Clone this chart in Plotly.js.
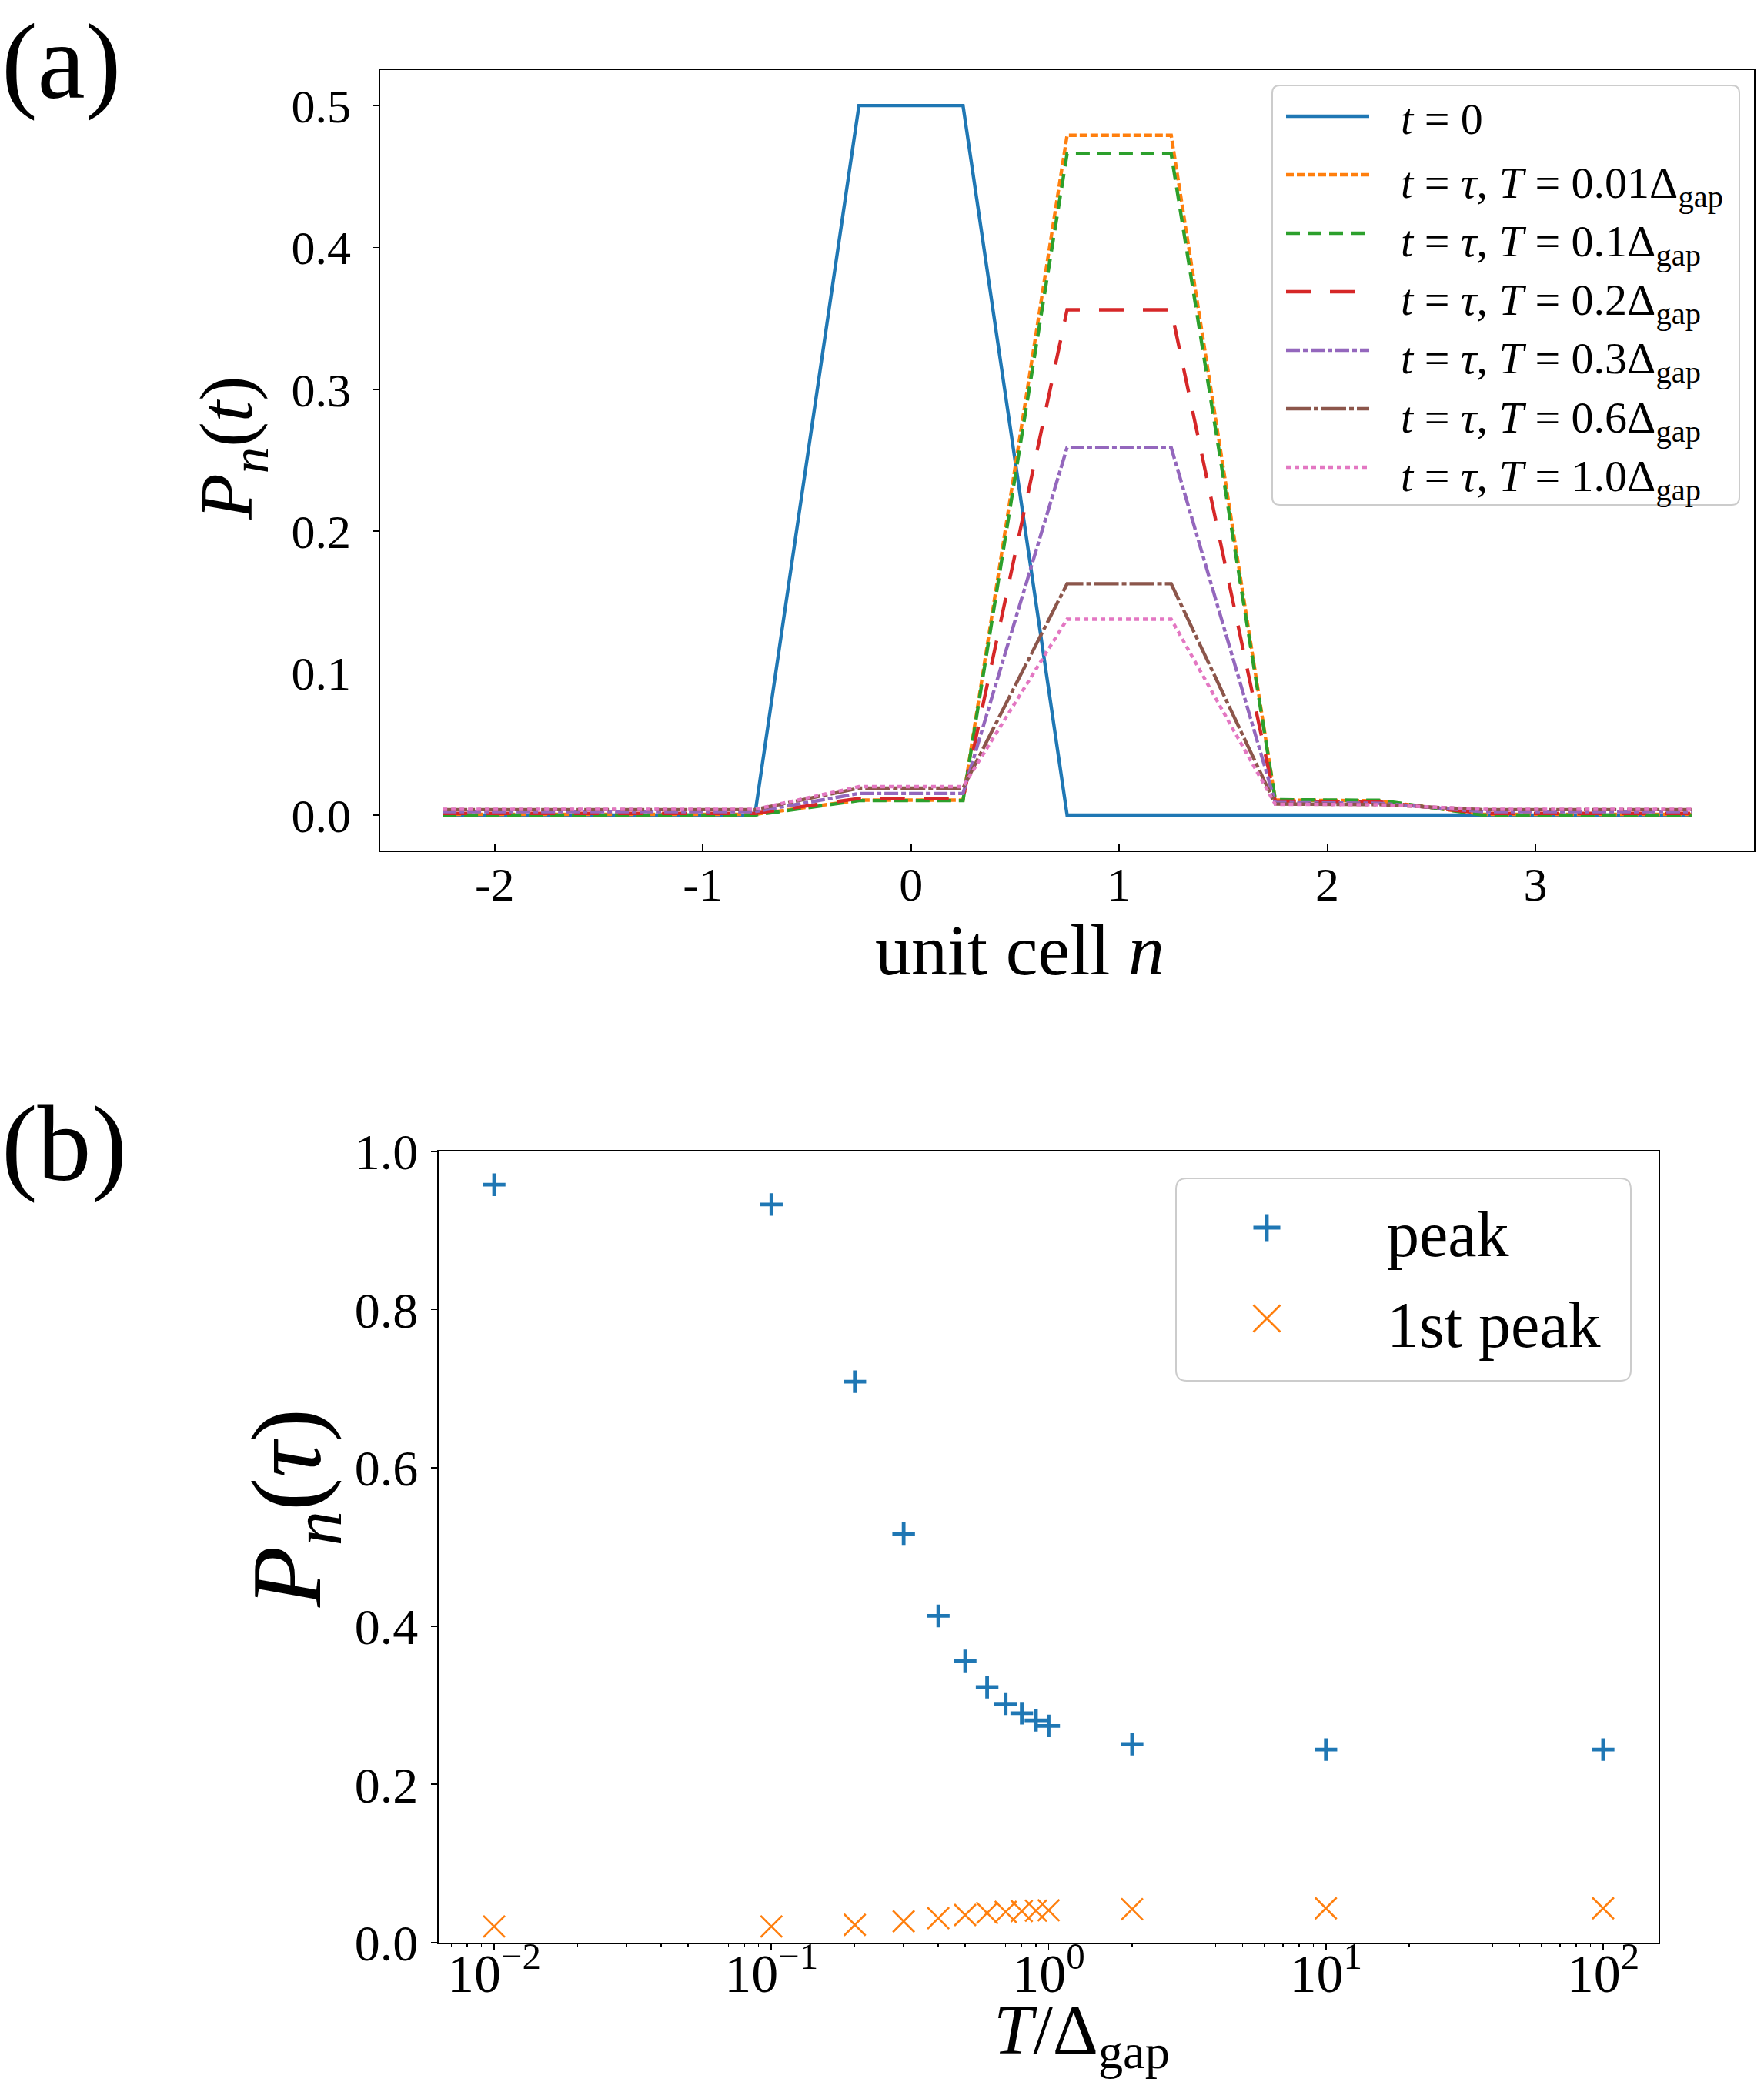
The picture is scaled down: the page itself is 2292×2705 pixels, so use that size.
<!DOCTYPE html>
<html>
<head>
<meta charset="utf-8">
<script src="https://cdn.plot.ly/plotly-3.0.1.min.js"></script>
<style>
  html, body { margin: 0; padding: 0; background: #ffffff; }
  #chart { width: 2292px; height: 2705px; }
</style>
</head>
<body>
<div id="chart"></div>
<script>
// ---- panel (a): occupation per unit cell ----
const unitCells = [-2.25, -1.75, -1.25, -0.75, -0.25, 0.25, 0.75, 1.25, 1.75, 2.25, 2.75, 3.25, 3.75];
const pT0   = [0, 0, 0, 0, 0.5, 0.5, 0, 0, 0, 0, 0, 0, 0];
const pT001 = [0.0005, 0.0005, 0.0005, 0.0005, 0.0105, 0.0105, 0.479, 0.479, 0.0106, 0.0100, 0.0005, 0.0005, 0.0005];
const pT01  = [0, 0, 0, 0, 0.0102, 0.0102, 0.466, 0.466, 0.0108, 0.0104, 0, 0, 0];
const pT02  = [0.0012, 0.0012, 0.0012, 0.0012, 0.0117, 0.0117, 0.356, 0.356, 0.0098, 0.0092, 0.0012, 0.0012, 0.0012];
const pT03  = [0.0024, 0.0024, 0.0024, 0.0024, 0.0152, 0.0152, 0.259, 0.259, 0.0088, 0.0083, 0.0024, 0.0024, 0.0024];
const pT06  = [0.0038, 0.0038, 0.0038, 0.0038, 0.0190, 0.0190, 0.163, 0.163, 0.0078, 0.0074, 0.0038, 0.0038, 0.0038];
const pT10  = [0.0040, 0.0040, 0.0040, 0.0040, 0.0200, 0.0200, 0.138, 0.138, 0.0076, 0.0073, 0.0040, 0.0040, 0.0040];
const xTickVals = [-2, -1, 0, 1, 2, 3];
const xTickText = ['-2', '-1', '0', '1', '2', '3'];

const labelsA = [
  '<i>t</i> = 0',
  '<i>t</i> = <i>τ</i>, <i>T</i> = 0.01Δ<sub>gap</sub>',
  '<i>t</i> = <i>τ</i>, <i>T</i> = 0.1Δ<sub>gap</sub>',
  '<i>t</i> = <i>τ</i>, <i>T</i> = 0.2Δ<sub>gap</sub>',
  '<i>t</i> = <i>τ</i>, <i>T</i> = 0.3Δ<sub>gap</sub>',
  '<i>t</i> = <i>τ</i>, <i>T</i> = 0.6Δ<sub>gap</sub>',
  '<i>t</i> = <i>τ</i>, <i>T</i> = 1.0Δ<sub>gap</sub>'
];

// ---- panel (b): peak heights vs temperature ----
const tempRatio = [0.01, 0.1, 0.2, 0.3, 0.4, 0.5, 0.6, 0.7, 0.8, 0.9, 1.0, 2, 10, 100];
const peak      = [0.958, 0.933, 0.709, 0.517, 0.413, 0.356, 0.323, 0.302, 0.290, 0.281, 0.274, 0.251, 0.244, 0.244];
const firstPeak = [0.0205, 0.0205, 0.0226, 0.027, 0.031, 0.035, 0.0375, 0.039, 0.040, 0.0405, 0.041, 0.0425, 0.0435, 0.0435];
const logTickVals = [0.01, 0.1, 1, 10, 100];
const logTickText = ['10<sup>−2</sup>', '10<sup>−1</sup>', '10<sup>0</sup>', '10<sup>1</sup>', '10<sup>2</sup>'];
const labelsB = ['peak', '1st peak'];

const W = 2292, H = 2705;
const FONT = '"Liberation Serif", "DejaVu Serif", serif';
const px = x => x / W;
const py = y => 1 - y / H;

const styleA = [
  { color: '#1f77b4', dash: 'solid' },
  { color: '#ff7f0e', dash: '10px,4px' },
  { color: '#2ca02c', dash: '18px,10px' },
  { color: '#d62728', dash: '32px,25px' },
  { color: '#9467bd', dash: '18px,4px,6px,4px' },
  { color: '#8c564b', dash: '32px,4px,6px,4px' },
  { color: '#e377c2', dash: '6px,5px' }
];
const seriesA = [pT0, pT001, pT01, pT02, pT03, pT06, pT10];
const LW = 4.4;

const traces = seriesA.map((ys, i) => ({
  x: unitCells, y: ys,
  xaxis: 'x', yaxis: 'y',
  type: 'scatter', mode: 'lines',
  name: labelsA[i],
  line: { color: styleA[i].color, width: LW, dash: styleA[i].dash },
  hoverinfo: 'skip'
}));

traces.push({
  x: tempRatio, y: peak, xaxis: 'x2', yaxis: 'y2',
  type: 'scatter', mode: 'markers', name: labelsB[0],
  marker: { symbol: 'cross-thin', size: 21, color: '#1f77b4', line: { color: '#1f77b4', width: 4.8 } },
  hoverinfo: 'skip'
});
traces.push({
  x: tempRatio, y: firstPeak, xaxis: 'x2', yaxis: 'y2',
  type: 'scatter', mode: 'markers', name: labelsB[1],
  marker: { symbol: 'x-thin', size: 28, color: '#ff7f0e', line: { color: '#ff7f0e', width: 2.6 } },
  hoverinfo: 'skip'
});

// minor ticks of the log axis: 2..9 in every decade
const minorVals = [];
for (let k = -3; k <= 2; k++) {
  for (let d = 2; d <= 9; d++) {
    const v = d * Math.pow(10, k);
    if (Math.log10(v) > -2.2 && Math.log10(v) < 2.2) minorVals.push(v);
  }
}

function roundedBox(x0, y0, x1, y1, r) {
  const p = (x, y) => px(x).toFixed(5) + ',' + py(y).toFixed(5);
  return 'M' + p(x0 + r, y0) + ' L' + p(x1 - r, y0) + ' Q' + p(x1, y0) + ' ' + p(x1, y0 + r) +
    ' L' + p(x1, y1 - r) + ' Q' + p(x1, y1) + ' ' + p(x1 - r, y1) +
    ' L' + p(x0 + r, y1) + ' Q' + p(x0, y1) + ' ' + p(x0, y1 - r) +
    ' L' + p(x0, y0 + r) + ' Q' + p(x0, y0) + ' ' + p(x0 + r, y0) + ' Z';
}

const shapes = [];
const annotations = [];

// legend (a), drawn by hand so the line samples keep their long dash patterns
shapes.push({
  type: 'path', xref: 'paper', yref: 'paper', layer: 'above',
  path: roundedBox(1653, 111, 2260, 656, 10),
  fillcolor: 'rgba(255,255,255,0.8)', line: { color: '#cccccc', width: 2 }
});
labelsA.forEach((lab, i) => {
  const rowY = 151 + i * 76;
  shapes.push({
    type: 'line', xref: 'paper', yref: 'paper', layer: 'above',
    x0: px(1671), x1: px(1779), y0: py(rowY), y1: py(rowY),
    line: { color: styleA[i].color, width: LW, dash: styleA[i].dash }
  });
  annotations.push({
    xref: 'paper', yref: 'paper', x: px(1818), y: py(rowY + (i === 0 ? 4 : 15)),
    xanchor: 'left', yanchor: 'middle', showarrow: false,
    text: lab, font: { family: FONT, size: 58, color: '#000' }
  });
});

// legend (b)
shapes.push({
  type: 'path', xref: 'paper', yref: 'paper', layer: 'above',
  path: roundedBox(1528, 1531, 2119, 1794, 14),
  fillcolor: 'rgba(255,255,255,0.8)', line: { color: '#cccccc', width: 2 }
});
const mk = 17.5, mx = 1646, r1 = 1595, r2 = 1713;
shapes.push({ type: 'line', xref: 'paper', yref: 'paper', layer: 'above',
  x0: px(mx - mk), x1: px(mx + mk), y0: py(r1), y1: py(r1), line: { color: '#1f77b4', width: 4.8 } });
shapes.push({ type: 'line', xref: 'paper', yref: 'paper', layer: 'above',
  x0: px(mx), x1: px(mx), y0: py(r1 - mk), y1: py(r1 + mk), line: { color: '#1f77b4', width: 4.8 } });
shapes.push({ type: 'line', xref: 'paper', yref: 'paper', layer: 'above',
  x0: px(mx - mk), x1: px(mx + mk), y0: py(r2 - mk), y1: py(r2 + mk), line: { color: '#ff7f0e', width: 2.6 } });
shapes.push({ type: 'line', xref: 'paper', yref: 'paper', layer: 'above',
  x0: px(mx - mk), x1: px(mx + mk), y0: py(r2 + mk), y1: py(r2 - mk), line: { color: '#ff7f0e', width: 2.6 } });
[r1, r2].forEach((rowY, i) => {
  annotations.push({
    xref: 'paper', yref: 'paper', x: px(1800), y: py(rowY + 8),
    xanchor: 'left', yanchor: 'middle', showarrow: false,
    text: labelsB[i], font: { family: FONT, size: 84, color: '#000' }
  });
});

// panel letters and axis titles
const txt = (text, x, y, size, opts) => Object.assign({
  xref: 'paper', yref: 'paper', x: px(x), y: py(y),
  xanchor: 'center', yanchor: 'middle', showarrow: false,
  text: text, font: { family: FONT, size: size, color: '#000' }
}, opts || {});
annotations.push(txt('(a)', 0, 0, 140, { xanchor: 'left', yanchor: 'top' }));
annotations.push(txt('(b)', 0, 1406, 140, { xanchor: 'left', yanchor: 'top' }));
annotations.push(txt('unit cell <i>n</i>', 1325, 1234, 94));
annotations.push(txt('<i>P</i><sub><i>n</i></sub>(<i>t</i>)', 301, 582, 98, { textangle: -90 }));
annotations.push(txt('<i>T</i>/Δ<sub>gap</sub>', 1405, 2705, 92, { yanchor: 'bottom', yshift: 2 }));
annotations.push(txt('<i>P</i><sub><i>n</i></sub>(<i>τ</i>)', 382, 1960, 130, { textangle: -90 }));

const axisBase = {
  showline: true, mirror: true, linecolor: '#000', linewidth: 1.6,
  showgrid: false, zeroline: false,
  tickcolor: '#000', tickwidth: 1.8, ticklen: 8
};

const layout = {
  width: W, height: H,
  margin: { l: 0, r: 0, t: 0, b: 0, pad: 0 },
  paper_bgcolor: '#ffffff', plot_bgcolor: '#ffffff',
  showlegend: false,
  font: { family: FONT, color: '#000' },
  xaxis: Object.assign({}, axisBase, {
    domain: [494 / W, 2279 / W], anchor: 'y',
    range: [-2.55, 4.05], ticks: 'inside',
    tickmode: 'array', tickvals: xTickVals, ticktext: xTickText,
    ticklabelstandoff: -11,
    tickfont: { family: FONT, size: 62, color: '#000' }
  }),
  yaxis: Object.assign({}, axisBase, {
    domain: [1 - 1105 / H, 1 - 91 / H], anchor: 'x',
    range: [-0.025, 0.525], ticks: 'outside',
    tick0: 0, dtick: 0.1, tickformat: '.1f',
    ticklabelstandoff: 16,
    tickfont: { family: FONT, size: 62, color: '#000' }
  }),
  xaxis2: Object.assign({}, axisBase, {
    domain: [570 / W, 2155 / W], anchor: 'y2',
    type: 'log', range: [-2.2, 2.2], ticks: 'outside',
    tickmode: 'array', tickvals: logTickVals, ticktext: logTickText,
    ticklabelstandoff: -30,
    tickfont: { family: FONT, size: 70, color: '#000' },
    minor: { tickmode: 'array', tickvals: minorVals, ticks: 'outside', ticklen: 4.5, tickwidth: 1.4, tickcolor: '#000', showgrid: false }
  }),
  yaxis2: Object.assign({}, axisBase, {
    domain: [1 - 2524 / H, 1 - 1496 / H], anchor: 'x2',
    range: [0, 1], ticks: 'outside',
    tick0: 0, dtick: 0.2, tickformat: '.1f',
    ticklabelstandoff: 4,
    tickfont: { family: FONT, size: 66, color: '#000' }
  }),
  shapes: shapes,
  annotations: annotations
};

Plotly.newPlot('chart', traces, layout, { displayModeBar: false, staticPlot: true });
</script>
</body>
</html>
